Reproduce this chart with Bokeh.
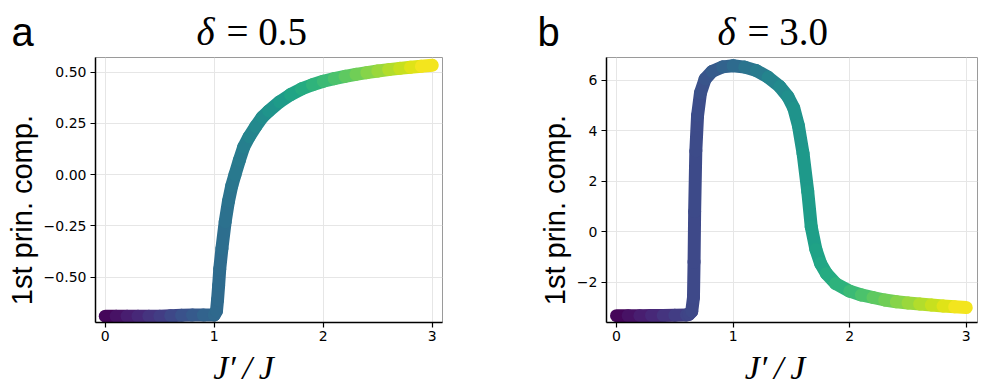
from bokeh.plotting import figure
from bokeh.layouts import row, column
from bokeh.models import Range1d, FixedTicker, CustomJSTickFormatter, Label, ColumnDataSource
from bokeh.transform import linear_cmap
from bokeh.palettes import Viridis256
from bokeh.embed import file_html
from bokeh.resources import INLINE

# ---- data ----
x_a = [0.0, 0.1, 0.2, 0.3, 0.4, 0.5, 0.6, 0.7, 0.8, 0.9, 1.0, 1.02, 1.03, 1.04, 1.05, 1.07,
       1.10, 1.13, 1.16, 1.19, 1.23, 1.27, 1.32, 1.38, 1.44, 1.5, 1.6, 1.7, 1.8, 1.9, 2.0,
       2.1, 2.2, 2.3, 2.4, 2.5, 2.6, 2.7, 2.8, 2.9, 3.0]
y_a = [-0.69, -0.69, -0.69, -0.69, -0.69, -0.69, -0.688, -0.686, -0.685, -0.685, -0.684,
       -0.665, -0.61, -0.54, -0.46, -0.36, -0.23, -0.13, -0.055, 0.0, 0.07, 0.135, 0.185,
       0.235, 0.28, 0.31, 0.355, 0.39, 0.418, 0.438, 0.455, 0.468, 0.479, 0.489, 0.497,
       0.505, 0.512, 0.518, 0.523, 0.528, 0.533]

x_b = [0.0, 0.1, 0.2, 0.3, 0.4, 0.5, 0.6, 0.62, 0.645, 0.66, 0.665, 0.67, 0.68, 0.695, 0.72,
       0.76, 0.82, 0.91, 1.0, 1.1, 1.2, 1.3, 1.4, 1.47, 1.52, 1.56, 1.60, 1.64, 1.67, 1.71,
       1.75, 1.8, 1.88, 2.0, 2.1, 2.2, 2.3, 2.4, 2.5, 2.6, 2.7, 2.8, 2.9, 3.0]
y_b = [-3.32, -3.32, -3.32, -3.31, -3.31, -3.30, -3.29, -3.27, -3.15, -2.6, -1.2, 0.8, 3.2,
       4.6, 5.5, 6.05, 6.35, 6.53, 6.57, 6.52, 6.38, 6.12, 5.75, 5.35, 4.9, 4.2, 3.1, 1.6,
       0.2, -0.7, -1.25, -1.65, -2.05, -2.35, -2.5, -2.6, -2.7, -2.77, -2.82, -2.86, -2.9,
       -2.94, -2.97, -3.0]

x_ticks = [0, 1, 2, 3]
y_ticks_a = [-0.5, -0.25, 0.0, 0.25, 0.5]
y_ticks_b = [-2, 0, 2, 4, 6]

delta_sym = "\u03b4"
delta_vals = ["= 0.5", "= 3.0"]
letters = ["a", "b"]
x_label = "J\u2032\u2009/\u2009J"
y_label = "1st prin. comp."

NB = "\u00a0"
HEAD_H = 57


def fmt(digits):
    return CustomJSTickFormatter(code=(
        "const s = Math.abs(tick).toFixed(%d);"
        "return tick < 0 ? '\\u2212' + s : s;" % digits))


def panel(xs, ys, xr, yr, yticks, ydig, fw, fh, mbl, mbr, xlab_pad):
    src = ColumnDataSource(dict(
        x0=xs[:-1], y0=ys[:-1], x1=xs[1:], y1=ys[1:],
        xm=[(a + b) / 2 for a, b in zip(xs[:-1], xs[1:])]))
    p = figure(frame_width=fw, frame_height=fh, output_backend="svg",
               toolbar_location=None, x_range=Range1d(*xr), y_range=Range1d(*yr),
               min_border_left=mbl, min_border_right=mbr, min_border_top=0,
               min_border_bottom=60, background_fill_color="white",
               border_fill_color="white")
    p.segment("x0", "y0", "x1", "y1", source=src, line_width=13, line_cap="round",
              line_color=linear_cmap("xm", Viridis256, 0, 3))
    p.outline_line_color = "#9a9a9a"
    p.outline_line_width = 1
    for ax in (p.xaxis[0], p.yaxis[0]):
        ax.axis_line_color = "black"
        ax.axis_line_width = 1.5
        ax.major_tick_line_color = "black"
        ax.major_tick_line_width = 1.2
        ax.major_tick_out = 5
        ax.major_tick_in = 0
        ax.minor_tick_line_color = None
        ax.major_label_text_font = "DejaVu Sans"
        ax.major_label_text_font_size = "14px"
        ax.major_label_text_color = "black"
        ax.axis_label_text_color = "black"
    p.xaxis.ticker = FixedTicker(ticks=x_ticks)
    p.yaxis.ticker = FixedTicker(ticks=yticks)
    p.xaxis.formatter = fmt(0)
    p.yaxis.formatter = fmt(ydig)
    p.xaxis.major_label_standoff = 3
    p.yaxis.major_label_standoff = 4
    p.xaxis.axis_label = x_label + NB * xlab_pad
    p.xaxis.axis_label_text_font = "Liberation Serif"
    p.xaxis.axis_label_text_font_style = "italic"
    p.xaxis.axis_label_text_font_size = "34px"
    p.xaxis.axis_label_standoff = 5
    p.yaxis.axis_label = y_label + NB * 5
    p.yaxis.axis_label_text_font = "Liberation Sans"
    p.yaxis.axis_label_text_font_style = "normal"
    p.yaxis.axis_label_text_font_size = "29px"
    p.yaxis.axis_label_standoff = 3
    p.grid.grid_line_color = "#e6e6e6"
    p.grid.grid_line_width = 1
    return p


pa = panel(x_a, y_a, (-0.09, 3.094), (-0.721, 0.571), y_ticks_a, 2,
           347, 265, 95, 58, 6)
pb = panel(x_b, y_b, (-0.086, 3.096), (-3.59, 6.9), y_ticks_b, 0,
           371, 265, 106, 12, 4)

# header strip carrying panel letters and titles (coordinates = pixels)
head = figure(frame_width=997, frame_height=HEAD_H, output_backend="svg",
              toolbar_location=None, x_range=Range1d(0, 997), y_range=Range1d(0, HEAD_H),
              min_border=0, x_axis_location=None, y_axis_location=None,
              outline_line_color=None, background_fill_color="white",
              border_fill_color="white")
head.grid.visible = False
for letter, lx in zip(letters, [11, 537]):
    head.add_layout(Label(x=lx, y=25.5, text=letter, text_font="Liberation Sans",
                          text_font_size="40px", text_baseline="alphabetic",
                          text_color="black"))
for val, dx, vx in zip(delta_vals, [196, 717], [226, 747]):
    head.add_layout(Label(x=dx, y=26.5, text=delta_sym, text_font="Liberation Serif",
                          text_font_style="italic", text_font_size="39px",
                          text_baseline="alphabetic", text_color="black"))
    head.add_layout(Label(x=vx, y=26.5, text=val, text_font="Liberation Serif",
                          text_font_size="39px", text_baseline="alphabetic",
                          text_color="black"))

layout = column(head, row(pa, pb))
open("out.html", "w").write(file_html(layout, INLINE))
